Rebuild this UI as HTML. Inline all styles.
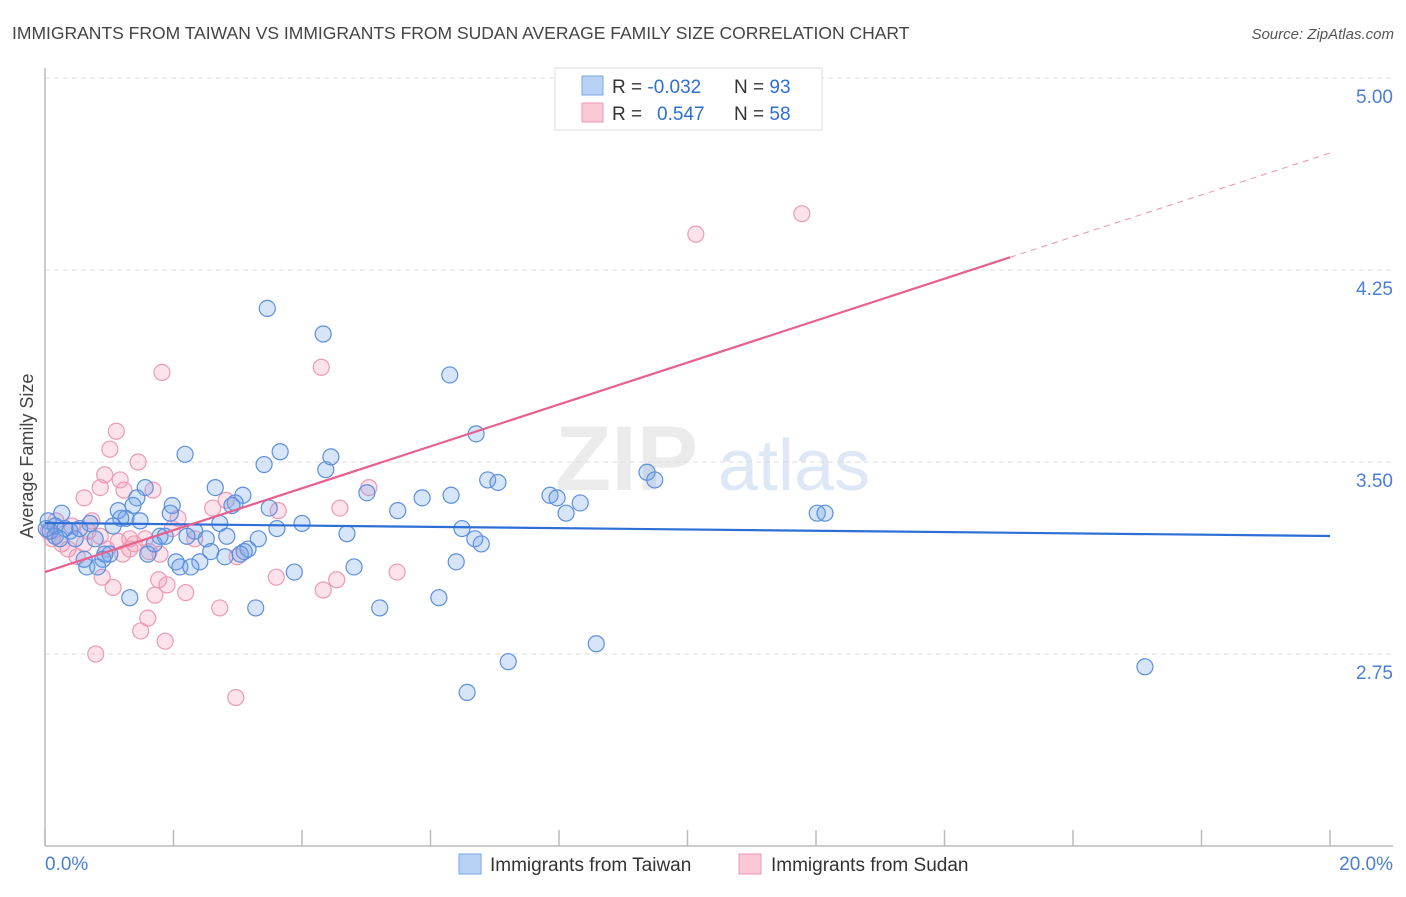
<!DOCTYPE html>
<html><head><meta charset="utf-8"><style>
body{margin:0;background:#fff;font-family:"Liberation Sans",sans-serif;}
svg text{font-family:"Liberation Sans",sans-serif;}
</style></head><body>
<svg id="chart" width="1406" height="892" viewBox="0 0 1406 892" xmlns="http://www.w3.org/2000/svg">
<text x="12" y="39" font-size="17.5" fill="#444">IMMIGRANTS FROM TAIWAN VS IMMIGRANTS FROM SUDAN AVERAGE FAMILY SIZE CORRELATION CHART</text>
<text x="1394" y="39" font-size="15" fill="#555" font-style="italic" text-anchor="end">Source: ZipAtlas.com</text>
<text transform="translate(33,456) rotate(-90)" font-size="18" fill="#444" text-anchor="middle">Average Family Size</text>
<g opacity="0.5">
<text x="555" y="490" font-size="92" fill="#d8d8d8" font-family="Liberation Serif" font-weight="bold">ZIP</text>
<text x="718" y="490" font-size="72" fill="#bcd0ec">atlas</text>
</g>
<g id="grid"></g><g id="axes"></g><g id="pts"></g><g id="trend"></g>
<g>
<rect x="555" y="68" width="267" height="62" fill="#fff" stroke="#ddd"/>
<rect x="582" y="76" width="21" height="19" fill="#b8d2f5" stroke="#7ba4e3"/>
<rect x="582" y="103" width="21" height="19" fill="#fbc8d6" stroke="#ee9ab5"/>
<text x="612" y="93" font-size="19" fill="#333">R = <tspan fill="#2e6fd6">-0.032</tspan></text>
<text x="734" y="93" font-size="19" fill="#333">N = <tspan fill="#2e6fd6">93</tspan></text>
<text x="612" y="120" font-size="19" fill="#333">R = <tspan fill="#2e6fd6" x="657">0.547</tspan></text>
<text x="734" y="120" font-size="19" fill="#333">N = <tspan fill="#2e6fd6">58</tspan></text>
</g>
<g>
<rect x="459" y="854" width="22" height="20" fill="#b8d2f5" stroke="#7ba4e3"/>
<text x="490" y="871" font-size="19" fill="#333">Immigrants from Taiwan</text>
<rect x="739" y="854" width="22" height="20" fill="#fbc8d6" stroke="#ee9ab5"/>
<text x="771" y="871" font-size="19" fill="#333">Immigrants from Sudan</text>
</g>
</svg>
<script>
const yTicks=[2.75,3.5,4.25,5.0];
const yTickLabels=["2.75","3.50","4.25","5.00"];
const xTicks=[0,2,4,6,8,10,12,14,16,18,20];
const xEndLabels=["0.0%","20.0%"];
const taiwanX=[3.46,4.33,6.30,6.71,2.18,3.66,3.41,4.37,4.45,6.89,7.05,9.37,9.49,2.65,3.08,1.56,1.43,5.01,5.87,6.32,7.86,7.97,8.33,8.11,5.49,12.02,12.14,1.98,1.14,1.37,1.26,1.48,1.18,0.26,0.70,2.96,2.91,3.49,2.72,1.95,4.00,3.61,4.70,6.49,6.69,6.79,2.33,2.51,2.83,1.79,1.87,2.21,3.32,0.78,0.47,0.05,0.16,0.39,0.54,0.93,1.01,0.90,1.60,1.70,3.16,3.10,2.58,2.80,2.04,2.41,2.10,2.27,3.04,0.65,0.82,0.61,3.88,4.81,6.40,1.32,3.28,5.21,6.13,8.58,7.21,6.57,17.12,0.16,0.31,0.08,0.23,1.06,0.02];
const taiwanY=[4.10,4.00,3.84,3.61,3.53,3.54,3.49,3.47,3.52,3.43,3.42,3.46,3.43,3.40,3.37,3.40,3.36,3.38,3.36,3.37,3.37,3.36,3.34,3.30,3.31,3.30,3.30,3.33,3.31,3.33,3.28,3.27,3.28,3.30,3.26,3.34,3.33,3.32,3.26,3.30,3.26,3.24,3.22,3.24,3.20,3.18,3.23,3.20,3.21,3.21,3.21,3.21,3.20,3.20,3.20,3.27,3.25,3.23,3.24,3.14,3.14,3.12,3.14,3.18,3.16,3.15,3.15,3.13,3.11,3.11,3.09,3.09,3.14,3.09,3.09,3.12,3.07,3.09,3.11,2.97,2.93,2.93,2.97,2.79,2.72,2.60,2.70,3.21,3.24,3.23,3.20,3.25,3.24];
const sudanX=[11.78,10.13,4.30,1.82,1.11,1.01,1.45,0.93,1.17,0.86,1.68,1.23,0.61,4.59,5.04,2.61,2.82,3.63,0.73,2.07,1.98,0.86,0.61,0.36,0.50,1.21,1.32,1.39,1.79,2.99,1.62,5.48,3.60,4.54,4.33,0.89,1.06,1.77,1.90,2.19,1.71,2.72,1.60,1.49,1.87,0.79,2.97,0.11,0.05,0.17,0.26,0.42,0.67,0.96,1.14,1.56,2.33,1.32];
const sudanY=[4.47,4.39,3.87,3.85,3.62,3.55,3.50,3.45,3.43,3.40,3.39,3.39,3.36,3.32,3.40,3.32,3.35,3.31,3.27,3.28,3.24,3.21,3.18,3.16,3.13,3.14,3.16,3.18,3.14,3.13,3.15,3.07,3.05,3.04,3.00,3.05,3.01,3.04,3.02,2.99,2.98,2.93,2.89,2.84,2.80,2.75,2.58,3.20,3.23,3.27,3.18,3.25,3.23,3.16,3.19,3.20,3.20,3.20];
const taiwanTrend=[3.262,3.211];
const sudanTrend=[3.07,4.707];
const sudanSolidEnd=15.02;

const NS="http://www.w3.org/2000/svg";
const X0=45,X1=1330,Y0=846,YTOP=78;
const sx=v=>X0+(v/20)*(X1-X0);
const sy=v=>Y0-(v-2)/3*(Y0-YTOP);
function mk(tag,attrs,parent){const e=document.createElementNS(NS,tag);for(const k in attrs)e.setAttribute(k,attrs[k]);parent.appendChild(e);return e;}
const grid=document.getElementById('grid'),axes=document.getElementById('axes'),pts=document.getElementById('pts'),trend=document.getElementById('trend');
yTicks.forEach((t,i)=>{
 const l=mk('line',{x1:X0,x2:1393,y1:sy(t),y2:sy(t),stroke:'#ddd','stroke-dasharray':'5,4'},grid);
 
 
 const tx=mk('text',{x:1393,y:sy(t)+25,'font-size':19,fill:'#4a7fd4','text-anchor':'end'},axes);
 tx.textContent=yTickLabels[i];
 
 
});
const ya=mk('line',{x1:X0,x2:X0,y1:68,y2:Y0,stroke:'#bbb','stroke-width':1.5},axes);


const xa=mk('line',{x1:X0,x2:1393,y1:Y0,y2:Y0,stroke:'#bbb','stroke-width':1.5},axes);


xTicks.forEach(t=>{
 const l=mk('line',{x1:sx(t),x2:sx(t),y1:830,y2:Y0,stroke:'#bbb','stroke-width':1.5},axes);
 
 
});
const xl0=mk('text',{x:45,y:870,'font-size':19,fill:'#4a7fd4'},axes);
xl0.textContent=xEndLabels[0];


const xl1=mk('text',{x:1393,y:870,'font-size':19,fill:'#4a7fd4','text-anchor':'end'},axes);
xl1.textContent=xEndLabels[1];


sudanX.forEach((x,i)=>{
 const c=mk('circle',{cx:sx(x),cy:sy(sudanY[i]),r:8,fill:'rgba(244,150,180,0.28)',stroke:'#ec9ab4','stroke-width':1.2},pts);
 
 
});
taiwanX.forEach((x,i)=>{
 const c=mk('circle',{cx:sx(x),cy:sy(taiwanY[i]),r:8,fill:'rgba(110,160,235,0.28)',stroke:'#5b8fde','stroke-width':1.2},pts);
 
 
});
const tl=mk('line',{x1:sx(0),y1:sy(taiwanTrend[0]),x2:sx(20),y2:sy(taiwanTrend[1]),stroke:'#2e6fd6','stroke-width':2.2},trend);


const sAt=x=>sudanTrend[0]+(sudanTrend[1]-sudanTrend[0])*x/20;
const sl=mk('line',{x1:sx(0),y1:sy(sAt(0)),x2:sx(sudanSolidEnd),y2:sy(sAt(sudanSolidEnd)),stroke:'#e8608e','stroke-width':2.2},trend);


const sd=mk('line',{x1:sx(sudanSolidEnd),y1:sy(sAt(sudanSolidEnd)),x2:sx(20),y2:sy(sAt(20)),stroke:'#e8608e','stroke-width':1,'stroke-dasharray':'6,5',opacity:0.7},trend);


</script>
</body></html>
